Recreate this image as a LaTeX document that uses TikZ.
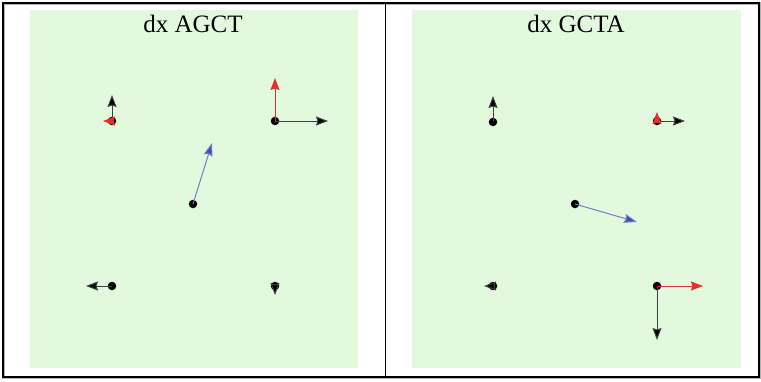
\documentclass[tikz,border=0pt]{standalone}
\usepackage{fontspec}
\setmainfont{Liberation Serif}
\usetikzlibrary{arrows.meta}
\definecolor{panelgreen}{HTML}{E2F9DE}
\definecolor{vred}{HTML}{E8302A}
\definecolor{vblue}{HTML}{3A4FB8}
\definecolor{vbluel}{HTML}{6F7FC8}
\definecolor{shaft}{HTML}{404040}
\tikzset{
  dot/.style={circle,fill=black,inner sep=0pt,minimum size=8.5pt},
  vec/.style={draw=shaft,line width=1pt,-{Stealth[length=12pt,width=9pt,inset=1.5pt,fill=black]}},
  rvec/.style={draw=vred,line width=1pt,-{Stealth[length=12pt,width=9pt,inset=1.5pt,fill=vred]}},
  bvec/.style={draw=vbluel,line width=1pt,-{Stealth[length=13pt,width=9pt,inset=1.5pt,fill=vblue]}},
  ttl/.style={font=\fontsize{25}{27}\selectfont,inner sep=0pt,anchor=base}
}
\begin{document}
\begin{tikzpicture}[x=1pt,y=-1pt]
\useasboundingbox (0,0) rectangle (761,381);
% panels
\fill[panelgreen] (30,10) rectangle (358,368);
\fill[panelgreen] (412,10) rectangle (741,368);
\draw[gray!60,line width=2.5pt] (3.5,3.5) rectangle (759.5,378);
\draw[black,line width=2pt] (2.5,2.5) rectangle (758.5,376.5);
\draw[black,line width=1.8pt] (385.5,2.5) -- (385.5,376.5);
% titles
\node[ttl] (t1) at (193,32) {dx AGCT};
\node[ttl] (t2) at (576,32) {dx GCTA};
% ---- left panel dots ----
\node[dot] (a1) at (112,121) {};
\node[dot] (a2) at (275,121) {};
\node[dot] (a3) at (193,204) {};
\node[dot] (a4) at (112,286) {};
\node[dot] (a5) at (275,286) {};
\coordinate (a1u) at (112,95); \coordinate (a1l) at (103,121);
\coordinate (a2r) at (328,121); \coordinate (a2u) at (275,78);
\coordinate (a3t) at (212,143);
\coordinate (a4l) at (86,286);
\coordinate (a5d) at (275,295);
\draw[vec] (a1.center) -- (a1u);
\draw[rvec] (a1.center) -- (a1l);
\draw[vec] (a2.center) -- (a2r);
\draw[rvec] (a2.center) -- (a2u);
\draw[bvec] (a3.center) -- (a3t);
\draw[vec] (a4.center) -- (a4l);
\draw[vec] (a5.center) -- (a5d);
% ---- right panel dots ----
\node[dot] (b1) at (493,122) {};
\node[dot] (b2) at (657,121) {};
\node[dot] (b3) at (575,204) {};
\node[dot] (b4) at (493,286) {};
\node[dot] (b5) at (657,286) {};
\coordinate (b1u) at (493,96);
\coordinate (b2r) at (685,121); \coordinate (b2u) at (657,112);
\coordinate (b3t) at (637,222);
\coordinate (b4l) at (484,286);
\coordinate (b5r) at (703,286); \coordinate (b5d) at (657,340);
\draw[vec] (b1.center) -- (b1u);
\draw[vec] (b2.center) -- (b2r);
\draw[rvec] (b2.center) -- (b2u);
\draw[bvec] (b3.center) -- (b3t);
\draw[vec] (b4.center) -- (b4l);
\draw[rvec] (b5.center) -- (b5r);
\draw[vec] (b5.center) -- (b5d);
\end{tikzpicture}
\end{document}
